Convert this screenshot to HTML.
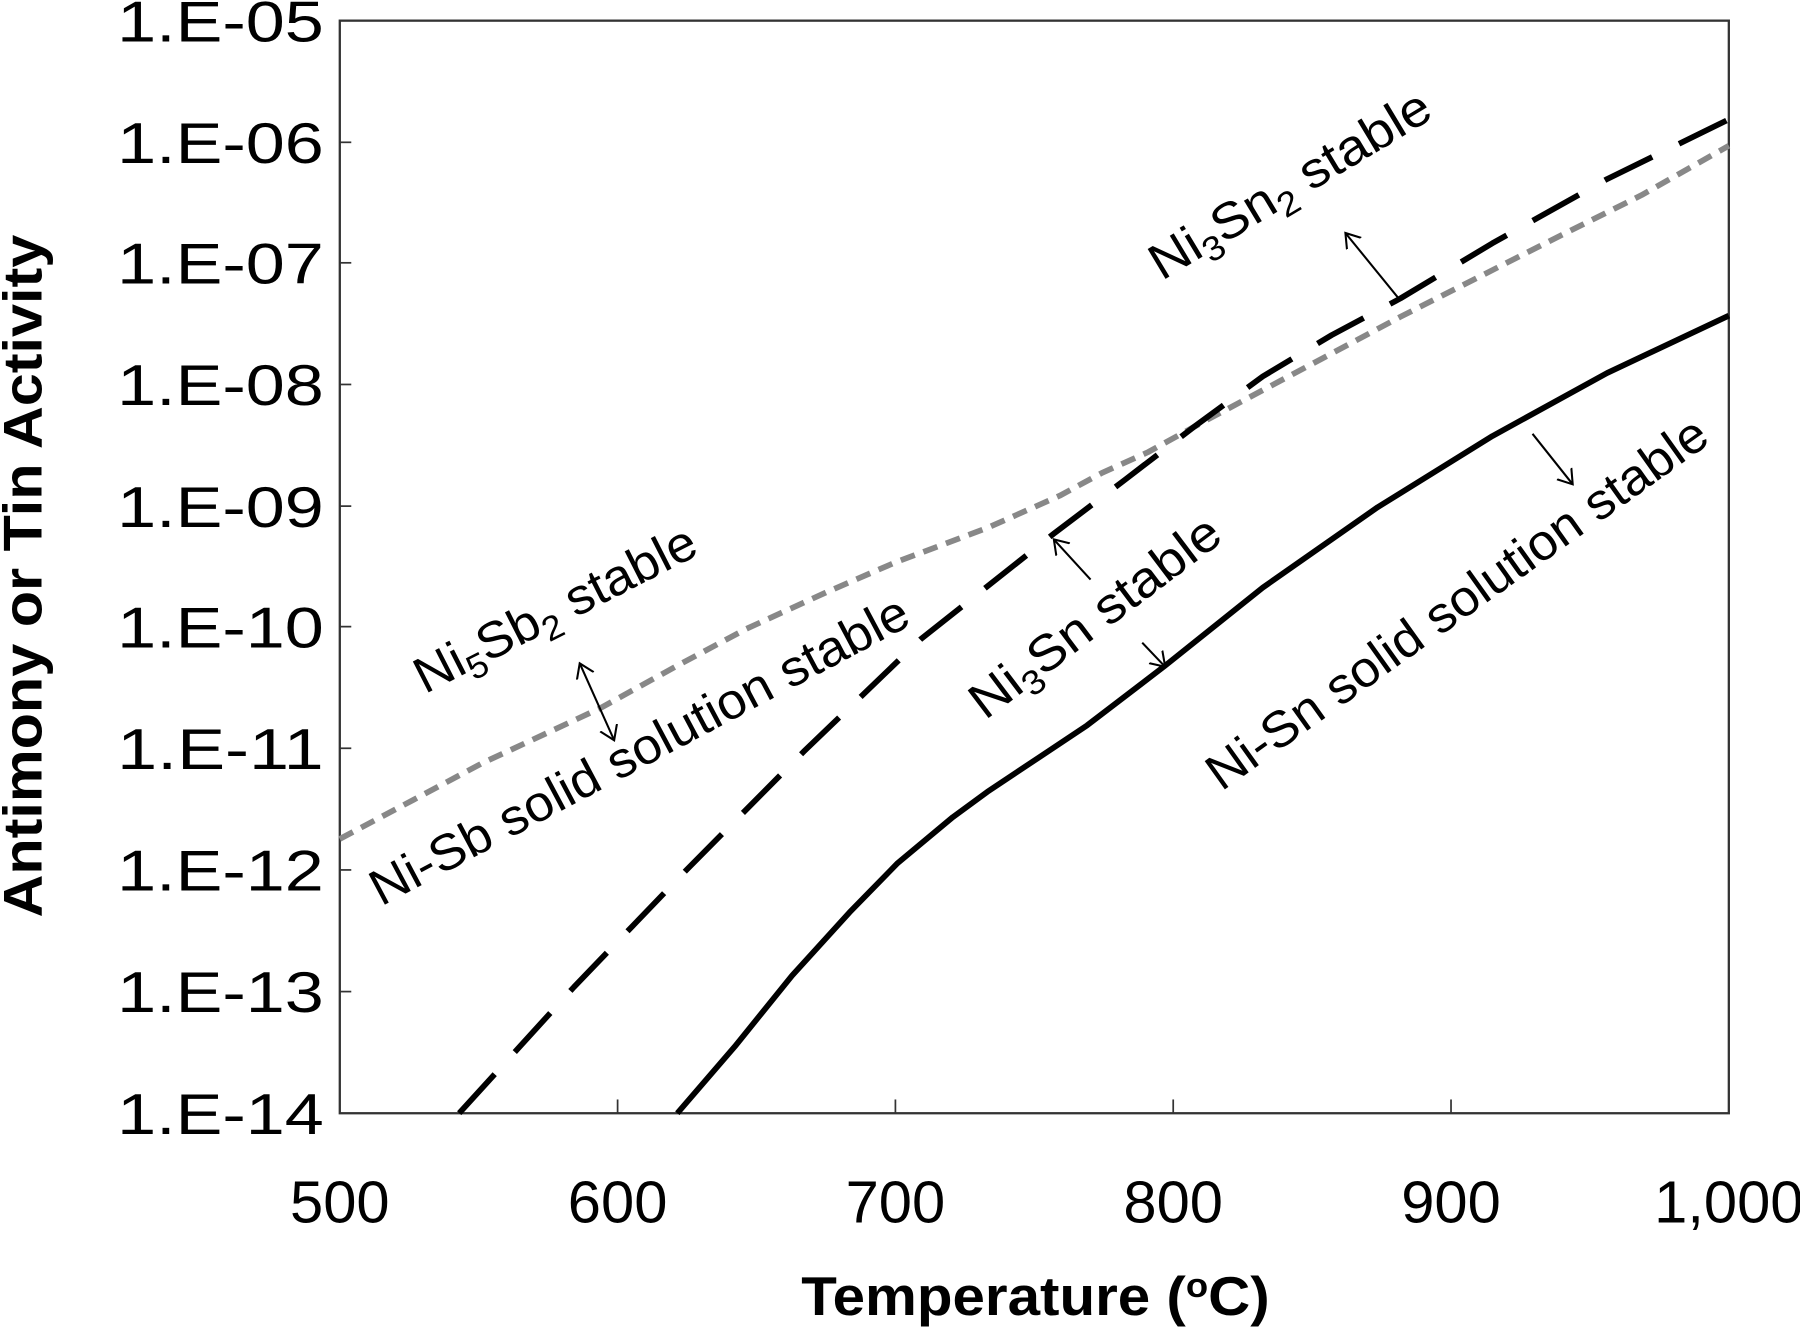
<!DOCTYPE html>
<html><head><meta charset="utf-8"><style>
html,body{margin:0;padding:0;background:#fff;}
svg{display:block;}
text{font-family:"Liberation Sans",Arial,sans-serif;fill:#000;}
</style></head><body>
<svg width="1800" height="1329" viewBox="0 0 1568 1158" preserveAspectRatio="none" xmlns="http://www.w3.org/2000/svg">
<defs>
<marker id="ah" markerWidth="24" markerHeight="24" refX="12" refY="12" orient="auto-start-reverse" markerUnits="userSpaceOnUse">
<path d="M0,4 L12,12 L0,20" fill="none" stroke="#000" stroke-width="1.8"/>
</marker>
</defs>
<rect x="296" y="18" width="1210" height="952" fill="none" stroke="#333" stroke-width="2"/>
<g stroke="#333" stroke-width="1.5">
<line x1="538" y1="958" x2="538" y2="970"/><line x1="780" y1="958" x2="780" y2="970"/>
<line x1="1022" y1="958" x2="1022" y2="970"/><line x1="1264" y1="958" x2="1264" y2="970"/>
<line x1="296" y1="124" x2="306" y2="124"/>
<line x1="296" y1="229" x2="306" y2="229"/><line x1="296" y1="335" x2="306" y2="335"/>
<line x1="296" y1="441" x2="306" y2="441"/><line x1="296" y1="546" x2="306" y2="546"/>
<line x1="296" y1="652" x2="306" y2="652"/><line x1="296" y1="758" x2="306" y2="758"/>
<line x1="296" y1="864" x2="306" y2="864"/>
</g>
<g font-size="50" text-anchor="end">
<text x="282" y="36" textLength="180" lengthAdjust="spacingAndGlyphs">1.E-05</text>
<text x="282" y="142" textLength="180" lengthAdjust="spacingAndGlyphs">1.E-06</text>
<text x="282" y="247" textLength="180" lengthAdjust="spacingAndGlyphs">1.E-07</text>
<text x="282" y="353" textLength="180" lengthAdjust="spacingAndGlyphs">1.E-08</text>
<text x="282" y="459" textLength="180" lengthAdjust="spacingAndGlyphs">1.E-09</text>
<text x="282" y="564" textLength="180" lengthAdjust="spacingAndGlyphs">1.E-10</text>
<text x="282" y="670" textLength="180" lengthAdjust="spacingAndGlyphs">1.E-11</text>
<text x="282" y="776" textLength="180" lengthAdjust="spacingAndGlyphs">1.E-12</text>
<text x="282" y="882" textLength="180" lengthAdjust="spacingAndGlyphs">1.E-13</text>
<text x="282" y="988" textLength="180" lengthAdjust="spacingAndGlyphs">1.E-14</text>
</g>
<g font-size="52" text-anchor="middle">
<text x="296" y="1065">500</text><text x="538" y="1065">600</text>
<text x="780" y="1065">700</text><text x="1022" y="1065">800</text>
<text x="1264" y="1065">900</text><text x="1506" y="1065">1,000</text>
</g>
<text x="698" y="1146" font-size="48" font-weight="bold" textLength="408" lengthAdjust="spacingAndGlyphs">Temperature (<tspan font-size="30" dy="-16">o</tspan><tspan dy="16">C)</tspan></text>
<text transform="translate(36,502) rotate(-90)" font-size="48" font-weight="bold" text-anchor="middle" textLength="595" lengthAdjust="spacingAndGlyphs">Antimony or Tin Activity</text>

<polyline fill="none" stroke="#888" stroke-width="5" stroke-dasharray="13,8" stroke-linejoin="round" points="296,731 360,697 420,665 523,617 590,580 650,548 720,516 780,490 860,460 923,432 960,412 1000,394 1040,372 1100,340 1160,308 1220,276 1350,210 1430,170 1506,127"/>
<polyline fill="none" stroke="#000" stroke-width="5" stroke-dasharray="46,26" stroke-linejoin="round" points="400,970 500,860 598,758 700,655 802,557 918,465 980,418 1040,372 1100,328 1160,292 1220,260 1300,212 1400,156 1506,104"/>
<polyline fill="none" stroke="#000" stroke-width="5" stroke-linejoin="round" points="590,970 640,912 690,850 740,795 782,752 830,712 860,690 905,660 947,632 1015,580 1100,512 1200,442 1300,380 1400,325 1506,275"/>

<g stroke="#000" stroke-width="1.8" fill="none">
<line x1="505" y1="578" x2="535" y2="645" marker-start="url(#ah)" marker-end="url(#ah)"/>
<line x1="950" y1="505" x2="918" y2="470" marker-end="url(#ah)"/>
<line x1="995" y1="560" x2="1015" y2="581" marker-end="url(#ah)"/>
<line x1="1220" y1="262" x2="1172" y2="203" marker-end="url(#ah)"/>
<line x1="1335" y1="378" x2="1370" y2="422" marker-end="url(#ah)"/>
</g>
<g font-size="44">
<text transform="translate(370,605) rotate(-27)" textLength="270" lengthAdjust="spacingAndGlyphs">Ni<tspan font-size="30" dy="9">5</tspan><tspan dy="-9">Sb</tspan><tspan font-size="30" dy="9">2</tspan><tspan dy="-9"> stable</tspan></text>
<text transform="translate(332,790) rotate(-28)" textLength="525" lengthAdjust="spacingAndGlyphs">Ni-Sb solid solution stable</text>
<text transform="translate(858,628) rotate(-37)" textLength="262" lengthAdjust="spacingAndGlyphs">Ni<tspan font-size="30" dy="9">3</tspan><tspan dy="-9">Sn stable</tspan></text>
<text transform="translate(1064,690) rotate(-35.5)" textLength="525" lengthAdjust="spacingAndGlyphs">Ni-Sn solid solution stable</text>
<text transform="translate(1012,245) rotate(-31)" textLength="278" lengthAdjust="spacingAndGlyphs">Ni<tspan font-size="30" dy="9">3</tspan><tspan dy="-9">Sn</tspan><tspan font-size="30" dy="9">2</tspan><tspan dy="-9"> stable</tspan></text>
</g>
</svg>
</body></html>
